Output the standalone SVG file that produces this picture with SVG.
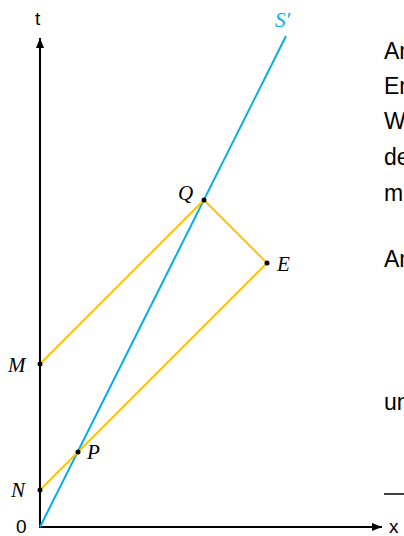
<svg xmlns="http://www.w3.org/2000/svg" width="404" height="536" viewBox="0 0 404 536">
<style>
.ax{stroke:#000;stroke-width:2;fill:none}
.wl{stroke:#00AEEF;stroke-width:2;fill:none}
.yl{stroke:#FDC20F;stroke-width:2;fill:none}
.lbl{font-family:"Liberation Serif",serif;font-style:italic;font-size:21px;fill:#000}
.sans{font-family:"Liberation Sans",Arial,sans-serif;font-size:23px;fill:#000}
.axl{font-family:"Liberation Sans",Arial,sans-serif;font-size:19px;fill:#000}
.pt{fill:#000}
</style>
<defs>
<marker id="ah" markerWidth="10" markerHeight="8" refX="10" refY="4" orient="auto" markerUnits="userSpaceOnUse">
<path d="M0,0 L10,4 L0,8 Z" fill="#000"/>
</marker>
</defs>
<g id="connectors">
<line class="ax" x1="40" y1="528" x2="40" y2="38" marker-end="url(#ah)"/>
<line class="ax" x1="39" y1="527" x2="382" y2="527" marker-end="url(#ah)"/>
<line class="wl" x1="40" y1="527" x2="286" y2="36"/>
<polyline class="yl" points="40,364 204,200 267,263 40,490"/>
</g>
<g id="axis-labels">
<text class="axl" x="35" y="25">t</text>
<text class="axl" x="16" y="533">0</text>
<text class="axl" x="389" y="533">x</text>
</g>
<g id="S-prime"><text class="lbl" x="275" y="27" style="fill:#00AEEF">S′</text></g>
<g id="Q"><circle class="pt" cx="204" cy="200" r="2.5"/><text class="lbl" x="178" y="200">Q</text></g>
<g id="E"><circle class="pt" cx="267" cy="263" r="2.5"/><text class="lbl" x="277" y="271">E</text></g>
<g id="M"><circle class="pt" cx="40" cy="364" r="2.5"/><text class="lbl" x="8" y="372">M</text></g>
<g id="N"><circle class="pt" cx="40" cy="490" r="2.5"/><text class="lbl" x="11" y="497">N</text></g>
<g id="P"><circle class="pt" cx="78" cy="452" r="2.5"/><text class="lbl" x="87" y="459">P</text></g>
<g id="side-text">
<text class="sans" x="384" y="59">An</text>
<text class="sans" x="384" y="94">En</text>
<text class="sans" x="384" y="129">W</text>
<text class="sans" x="384" y="165">de</text>
<text class="sans" x="384" y="201">m</text>
<text class="sans" x="384" y="267">An</text>
<text class="sans" x="384" y="410">un</text>
<line x1="384" y1="494" x2="404" y2="494" stroke="#000" stroke-width="1.5"/>
</g>
</svg>
